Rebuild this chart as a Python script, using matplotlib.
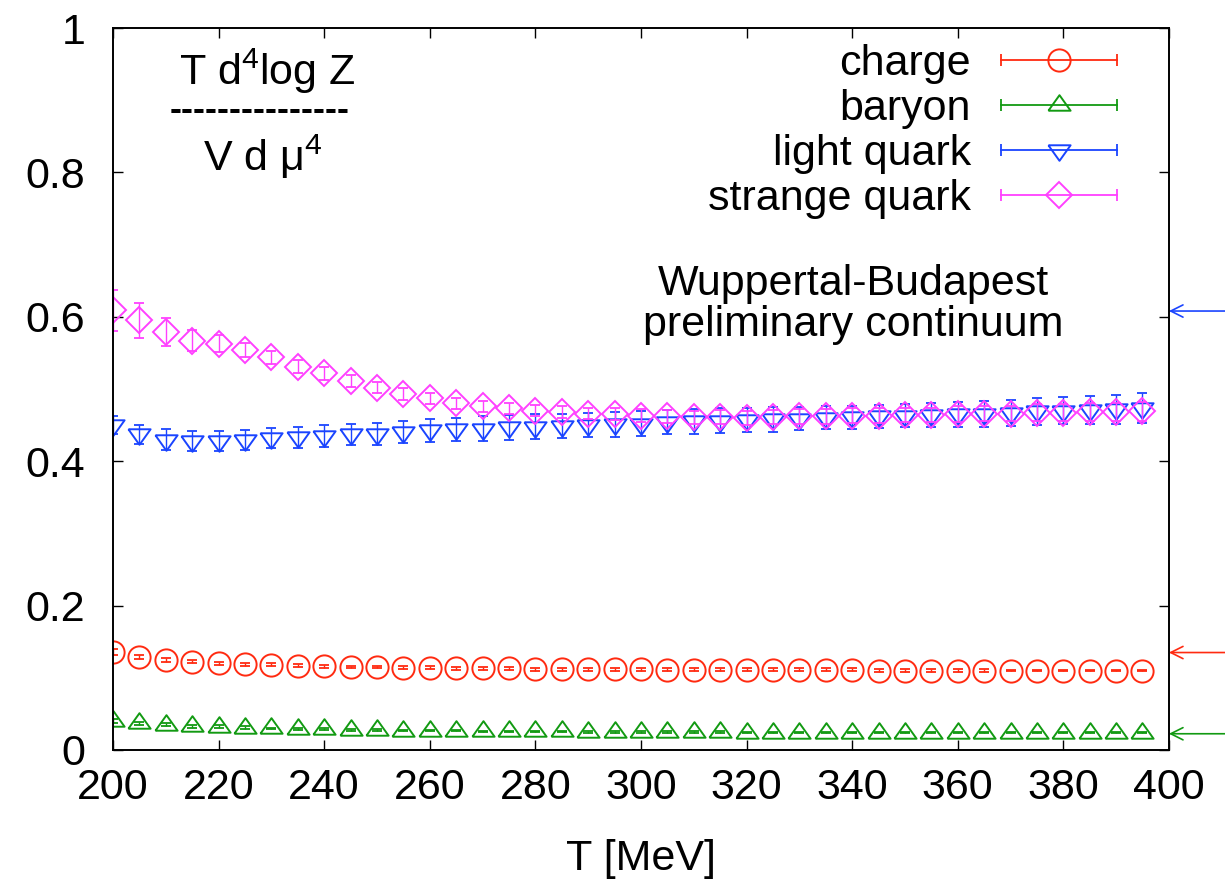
"""
Fourth-order susceptibilities vs temperature, gnuplot-style reproduction.
"""

import matplotlib
matplotlib.use("Agg")
import matplotlib.pyplot as plt
from matplotlib.legend_handler import HandlerBase
from matplotlib.lines import Line2D
from matplotlib.ticker import FuncFormatter

plt.rcParams["font.family"] = ["Liberation Sans", "DejaVu Sans"]
plt.rcParams["mathtext.fontset"] = "custom"
plt.rcParams["mathtext.rm"] = "Liberation Sans"
plt.rcParams["mathtext.it"] = "Liberation Sans"

# ---- data ----
T = [200, 205, 210, 215, 220, 225, 230, 235, 240, 245,
     250, 255, 260, 265, 270, 275, 280, 285, 290, 295,
     300, 305, 310, 315, 320, 325, 330, 335, 340, 345,
     350, 355, 360, 365, 370, 375, 380, 385, 390, 395]

charge = [0.136, 0.129, 0.125, 0.122, 0.120, 0.119, 0.118, 0.117, 0.116, 0.115,
          0.115, 0.114, 0.114, 0.113, 0.113, 0.113, 0.112, 0.112, 0.112, 0.112,
          0.112, 0.111, 0.111, 0.111, 0.111, 0.111, 0.111, 0.111, 0.111, 0.110,
          0.110, 0.110, 0.110, 0.110, 0.110, 0.110, 0.110, 0.110, 0.110, 0.110]
charge_err = [0.004, 0.003, 0.003, 0.002, 0.002, 0.002, 0.002, 0.002, 0.002, 0.002,
              0.002, 0.002, 0.002, 0.002, 0.002, 0.002, 0.002, 0.002, 0.002, 0.002,
              0.002, 0.002, 0.002, 0.002, 0.002, 0.002, 0.002, 0.002, 0.002, 0.002,
              0.002, 0.002, 0.002, 0.002, 0.001, 0.001, 0.001, 0.001, 0.001, 0.001]

baryon = [0.040, 0.037, 0.035, 0.033, 0.032, 0.031, 0.030, 0.029, 0.029, 0.028,
          0.028, 0.027, 0.027, 0.027, 0.026, 0.026, 0.026, 0.026, 0.025, 0.025,
          0.025, 0.025, 0.025, 0.025, 0.024, 0.024, 0.024, 0.024, 0.024, 0.024,
          0.024, 0.024, 0.024, 0.024, 0.024, 0.024, 0.024, 0.024, 0.024, 0.024]
baryon_err = [0.003, 0.002, 0.002, 0.002, 0.002, 0.002, 0.001, 0.001, 0.001, 0.001,
              0.001, 0.001, 0.001, 0.001, 0.001, 0.001, 0.001, 0.001, 0.001, 0.001,
              0.001, 0.001, 0.001, 0.001, 0.001, 0.001, 0.001, 0.001, 0.001, 0.001,
              0.001, 0.001, 0.001, 0.001, 0.001, 0.001, 0.001, 0.001, 0.001, 0.001]

light = [0.450, 0.437, 0.430, 0.428, 0.428, 0.429, 0.432, 0.433, 0.435, 0.437,
         0.438, 0.440, 0.443, 0.444, 0.445, 0.447, 0.448, 0.449, 0.450, 0.451,
         0.452, 0.454, 0.455, 0.456, 0.457, 0.458, 0.459, 0.460, 0.461, 0.462,
         0.463, 0.464, 0.465, 0.466, 0.467, 0.469, 0.470, 0.471, 0.472, 0.474]
light_err = [0.012, 0.013, 0.014, 0.014, 0.014, 0.014, 0.014, 0.015, 0.015, 0.015,
             0.015, 0.015, 0.016, 0.016, 0.017, 0.017, 0.017, 0.017, 0.017, 0.017,
             0.017, 0.017, 0.017, 0.017, 0.017, 0.017, 0.016, 0.016, 0.016, 0.016,
             0.016, 0.017, 0.017, 0.018, 0.018, 0.019, 0.019, 0.020, 0.020, 0.021]

strange = [0.609, 0.595, 0.579, 0.567, 0.563, 0.554, 0.544, 0.531, 0.522, 0.511,
           0.502, 0.493, 0.487, 0.480, 0.476, 0.473, 0.470, 0.468, 0.466, 0.465,
           0.463, 0.462, 0.461, 0.461, 0.460, 0.461, 0.462, 0.462, 0.463, 0.463,
           0.464, 0.464, 0.465, 0.466, 0.466, 0.467, 0.467, 0.468, 0.468, 0.469]
strange_err = [0.028, 0.024, 0.020, 0.015, 0.012, 0.010, 0.009, 0.009, 0.009, 0.008,
               0.008, 0.008, 0.008, 0.008, 0.008, 0.008, 0.008, 0.008, 0.008, 0.008,
               0.009, 0.009, 0.009, 0.010, 0.010, 0.010, 0.010, 0.010, 0.010, 0.010,
               0.010, 0.010, 0.011, 0.011, 0.011, 0.012, 0.012, 0.012, 0.013, 0.013]

# Stefan-Boltzmann limits marked with arrows on the right edge
sb_limits = [0.608, 0.135, 0.0225]
sb_colors = ["#1a44ff", "#ff2a10", "#129a12"]

labels = ["charge", "baryon", "light quark", "strange quark"]
colors = ["#ff2a10", "#129a12", "#1a44ff", "#ff40ff"]

# gnuplot triangles are centred on their centroid and a bit flatter than matplotlib's
TRI_UP = [(-1, -0.47), (1, -0.47), (0, 0.93), (-1, -0.47)]
TRI_DOWN = [(-1, 0.47), (1, 0.47), (0, -0.93), (-1, 0.47)]
markers = ["o", TRI_UP, TRI_DOWN, "D"]
msizes = [16, 16, 16, 13.5]

FS = 31


class HandlerXErr(HandlerBase):
    """Legend sample: horizontal error bar with the point symbol in the middle."""

    def create_artists(self, legend, orig_handle, xdescent, ydescent,
                       width, height, fontsize, trans):
        y = height / 2 - ydescent
        c = orig_handle.get_markeredgecolor()
        bar = Line2D([-xdescent, width - xdescent], [y, y], color=c, lw=1.3,
                     marker="|", markersize=9, markeredgewidth=1.3)
        mk = Line2D([width / 2 - xdescent], [y], ls="none",
                    marker=orig_handle.get_marker(), mfc="none", mec=c,
                    markersize=orig_handle.get_markersize(), markeredgewidth=1.4)
        bar.set_transform(trans)
        mk.set_transform(trans)
        return [bar, mk]


def main() -> None:
    fig = plt.figure(figsize=(12.25, 8.81), dpi=100)
    ax = fig.add_axes([0.0922, 0.1487, 0.8620, 0.8195])

    series = [(charge, charge_err), (baryon, baryon_err),
              (light, light_err), (strange, strange_err)]
    handles = []
    for (vals, errs), lab, c, m, ms in zip(series, labels, colors, markers, msizes):
        ax.errorbar(T, vals, yerr=errs, fmt="none", ecolor=c, elinewidth=1.0,
                    capsize=3.8, capthick=1.3)
        ax.plot(T, vals, ls="none", marker=m, mfc="none", mec=c, ms=ms, mew=1.4)
        handles.append(Line2D([], [], ls="none", marker=m, mec=c, mfc="none",
                              markersize=ms, label=lab))

    ax.set_xlim(200, 400)
    ax.set_ylim(0, 1)
    ax.set_xticks([200, 220, 240, 260, 280, 300, 320, 340, 360, 380, 400])
    ax.set_yticks([0, 0.2, 0.4, 0.6, 0.8, 1.0])
    ax.yaxis.set_major_formatter(FuncFormatter(lambda v, p: f"{v:g}"))
    ax.tick_params(direction="in", length=7, width=1.0, top=True, right=True,
                   labelsize=FS)
    ax.tick_params(axis="y", pad=20)
    ax.tick_params(axis="x", pad=13)
    for s in ax.spines.values():
        s.set_linewidth(1.4)
    ax.set_xlabel("T [MeV]", fontsize=FS, labelpad=22)

    # SB-limit arrows just outside the right frame
    for v, c in zip(sb_limits, sb_colors):
        ax.annotate("", xy=(1.0, v), xycoords=("axes fraction", "data"),
                    xytext=(1.06, v), textcoords=("axes fraction", "data"),
                    arrowprops=dict(arrowstyle="->", color=c, lw=1.2,
                                    mutation_scale=22, shrinkA=0, shrinkB=0),
                    annotation_clip=False)

    leg = ax.legend(handles=handles, loc="upper right",
                    bbox_to_anchor=(0.951, 0.978), frameon=False,
                    fontsize=FS, markerfirst=False, handlelength=2.7,
                    handletextpad=0.7, labelspacing=0.12, borderpad=0,
                    borderaxespad=0,
                    handler_map={Line2D: HandlerXErr()})
    for t in leg.get_texts():
        t.set_ha("right")

    # the fraction label top-left
    ax.text(0.146, 0.940, "T d$^4$log Z", transform=ax.transAxes,
            fontsize=FS, ha="center", va="center")
    ax.text(0.139, 0.886, "---------------", transform=ax.transAxes,
            fontsize=26, ha="center", va="center", fontweight="bold")
    ax.text(0.142, 0.822, "V d \u03bc$^4$", transform=ax.transAxes,
            fontsize=FS, ha="center", va="center")

    ax.text(0.701, 0.617, "Wuppertal-Budapest\npreliminary continuum",
            transform=ax.transAxes, fontsize=FS, ha="center", va="center",
            linespacing=1.05)

    fig.savefig("out.png", dpi=100)


if __name__ == "__main__":
    main()
